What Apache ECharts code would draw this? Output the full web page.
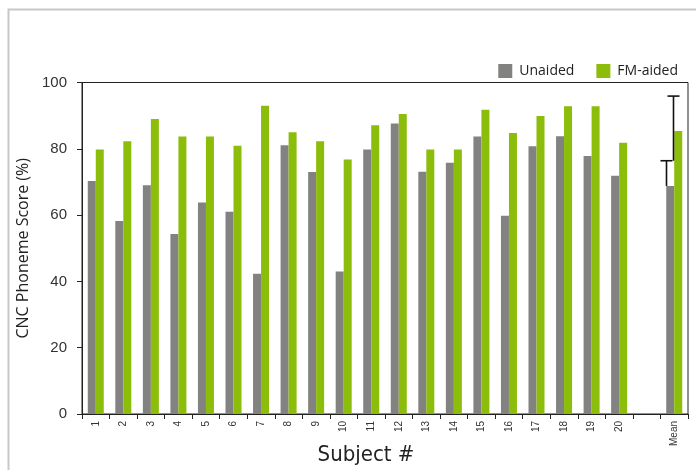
<!DOCTYPE html>
<html>
<head>
<meta charset="utf-8">
<script src="https://cdn.jsdelivr.net/npm/echarts@6/dist/echarts.min.js"></script>
<style>
  html, body { margin: 0; padding: 0; background: #fff; }
  #chart { width: 696px; height: 470px; }
</style>
</head>
<body>
<div id="chart"></div>
<script>
// Subjects 1-20, a spacer slot, then the group mean
const categories = ['1','2','3','4','5','6','7','8','9','10','11','12','13','14','15','16','17','18','19','20','','Mean'];

// CNC phoneme scores (%) per subject
const unaided = [70.3, 58.2, 69.0, 54.3, 63.8, 61.0, 42.3, 81.1, 73.0, 43.0, 79.8, 87.6, 73.1, 75.8, 83.7, 59.8, 80.8, 83.8, 77.8, 71.9, null, 68.8];
const fmAided = [79.8, 82.3, 89.0, 83.7, 83.7, 80.9, 93.0, 85.0, 82.3, 76.8, 87.1, 90.5, 79.8, 79.8, 91.8, 84.8, 89.9, 92.8, 92.8, 81.8, null, 85.4];

// Error bar extents on the mean bars: [category index, low, high]
const unaidedErr = [21, 68.8, 76.4];
const fmAidedErr = [21, 76.4, 95.9];

const yTicks = [0, 20, 40, 60, 80, 100];

const GRAY = '#828280';
const GREEN = '#8cbd0b';
const BAR_W = 8;

function errorBar(offset) {
  return function (params, api) {
    const cat = api.value(0);
    const lo = api.coord([cat, api.value(1)]);
    const hi = api.coord([cat, api.value(2)]);
    const x = Math.round(lo[0] + offset) + 0.5;
    const capHalf = 6;
    return {
      type: 'group',
      children: [
        { type: 'line', shape: { x1: x, y1: lo[1], x2: x, y2: hi[1] },
          style: { stroke: '#111', lineWidth: 1.6 } },
        { type: 'line', shape: { x1: x - capHalf, y1: hi[1], x2: x + capHalf, y2: hi[1] },
          style: { stroke: '#111', lineWidth: 1.6 } }
      ]
    };
  };
}

const chart = echarts.init(document.getElementById('chart'), null, { renderer: 'canvas' });

chart.setOption({
  animation: false,
  backgroundColor: '#fff',
  textStyle: { fontFamily: 'Open Sans, DejaVu Sans, sans-serif' },
  graphic: [{
    type: 'polyline',
    shape: { points: [[8.5, 470], [8.5, 9.5], [696, 9.5]] },
    style: { stroke: '#c8c8c8', lineWidth: 2, fill: null },
    silent: true
  }],
  legend: {
    data: ['Unaided', 'FM-aided'],
    right: 18,
    top: 64,
    padding: 0,
    itemWidth: 14,
    itemHeight: 14,
    itemGap: 22,
    icon: 'rect',
    textStyle: { fontFamily: 'Open Sans, sans-serif', fontSize: 14, color: '#222', padding: [0, 0, 0, 2] }
  },
  grid: {
    left: 82,
    right: 8,
    top: 82.5,
    bottom: 56,
    outerBoundsMode: 'none',
    containLabel: false,
    show: true,
    borderColor: '#222',
    borderWidth: 1,
    backgroundColor: 'transparent'
  },
  xAxis: {
    type: 'category',
    data: categories,
    name: 'Subject #',
    nameLocation: 'middle',
    nameGap: 30,
    nameMoveOverlap: false,
    nameTextStyle: {
      fontFamily: 'Liberation Sans Narrow, DejaVu Sans Condensed, sans-serif',
      fontSize: 22,
      color: '#222',
      padding: [0, 38, 0, 0]
    },
    axisLine: { lineStyle: { color: '#222', width: 1 } },
    axisTick: { show: true, interval: 0, length: 5, lineStyle: { color: '#222' } },
    axisLabel: {
      interval: 0,
      rotate: 90,
      margin: 7,
      fontFamily: 'Liberation Sans, Arial, sans-serif',
      fontSize: 10,
      color: '#333'
    },
    splitLine: { show: false }
  },
  yAxis: {
    type: 'value',
    min: 0,
    max: 100,
    interval: 20,
    name: 'CNC Phoneme Score (%)',
    nameLocation: 'middle',
    nameGap: 51,
    nameMoveOverlap: false,
    nameTextStyle: { fontFamily: 'Open Sans, sans-serif', fontSize: 16, color: '#222' },
    axisLine: { show: true, lineStyle: { color: '#222', width: 1 } },
    axisTick: { show: true, length: 5, lineStyle: { color: '#222' } },
    axisLabel: {
      margin: 15,
      fontFamily: 'Liberation Sans, Arial, sans-serif',
      fontSize: 15,
      color: '#333',
      formatter: function (v) { return yTicks.indexOf(v) >= 0 ? String(v) : ''; }
    },
    splitLine: { show: false }
  },
  series: [
    {
      name: 'Unaided',
      type: 'bar',
      data: unaided,
      barWidth: BAR_W,
      barGap: '0%',
      itemStyle: { color: GRAY }
    },
    {
      name: 'FM-aided',
      type: 'bar',
      data: fmAided,
      barWidth: BAR_W,
      barGap: '0%',
      itemStyle: { color: GREEN }
    },
    {
      name: 'Unaided SD',
      type: 'custom',
      renderItem: errorBar(-BAR_W - 0.5),
      data: [unaidedErr],
      encode: { x: 0, y: [1, 2] },
      z: 5,
      silent: true
    },
    {
      name: 'FM-aided SD',
      type: 'custom',
      renderItem: errorBar(-1.5),
      data: [fmAidedErr],
      encode: { x: 0, y: [1, 2] },
      z: 5,
      silent: true
    }
  ]
});
</script>
</body>
</html>
